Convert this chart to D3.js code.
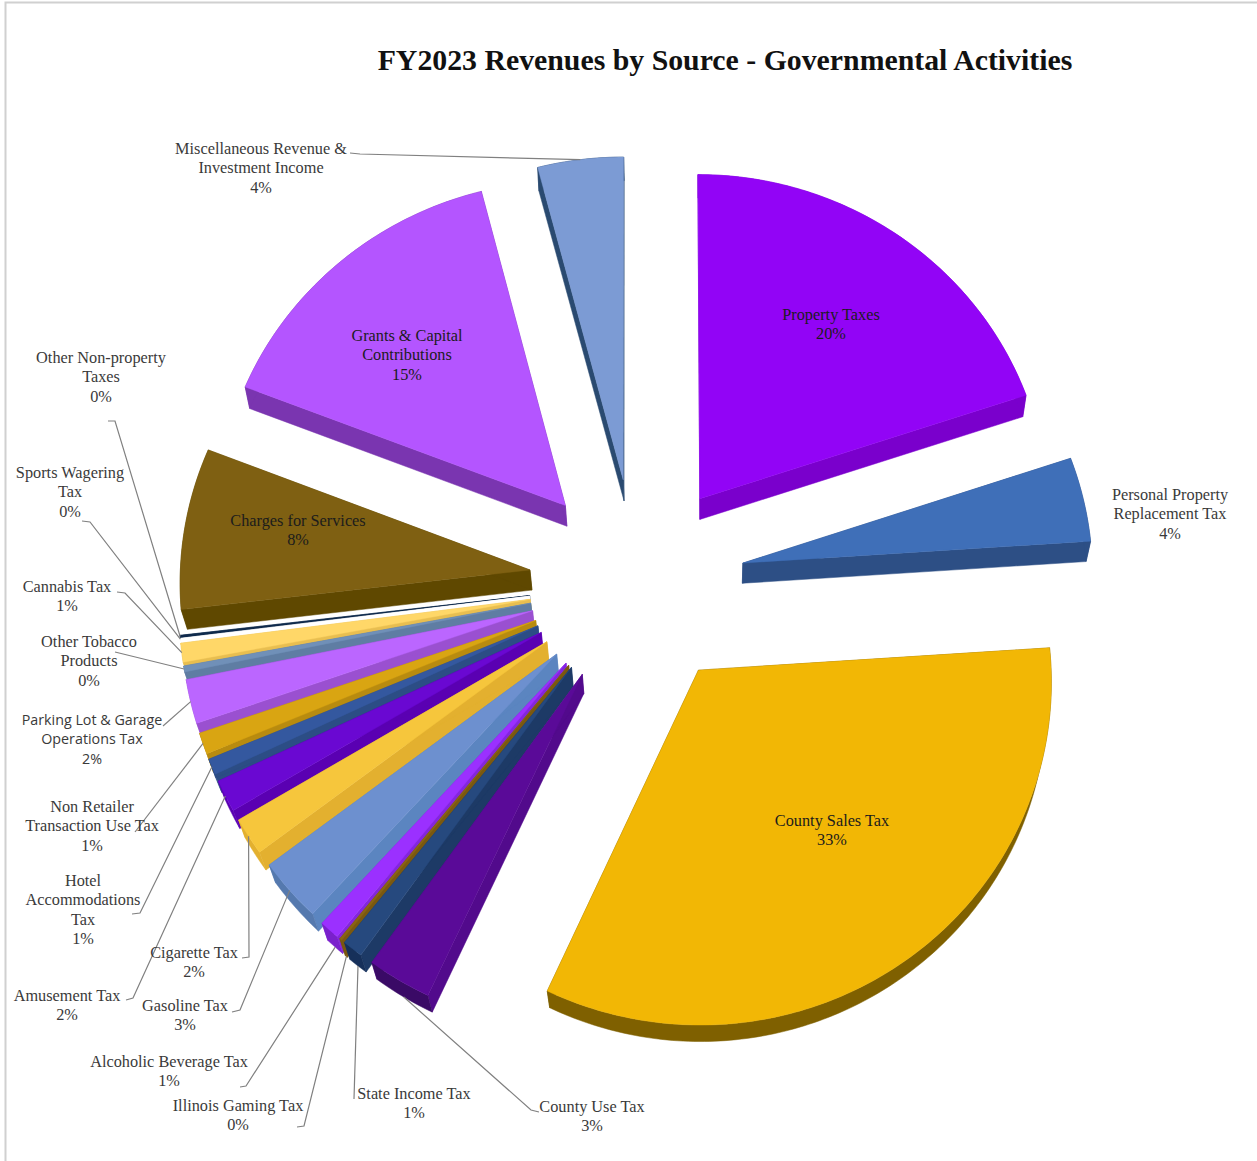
<!DOCTYPE html>
<html>
<head>
<meta charset="utf-8">
<title>FY2023 Revenues by Source - Governmental Activities</title>
<script src="https://cdn.jsdelivr.net/npm/d3@7/dist/d3.min.js"></script>
<style>
html,body{margin:0;padding:0;background:#fff;}
svg{display:block;}
text{font-family:"Liberation Serif",serif;fill:#3a3a3a;font-size:16.3px;text-anchor:middle;}
</style>
</head>
<body>
<svg id="chart" width="1257" height="1161"></svg>
<script>
// Revenue sources in pie order, clockwise from twelve o'clock
const sources = ["Property Taxes","Personal Property Replacement Tax","County Sales Tax","County Use Tax",
  "State Income Tax","Illinois Gaming Tax","Alcoholic Beverage Tax","Gasoline Tax","Cigarette Tax",
  "Amusement Tax","Hotel Accommodations Tax","Non Retailer Transaction Use Tax","Parking Lot & Garage Operations Tax",
  "Other Tobacco Products","Cannabis Tax","Sports Wagering Tax","Other Non-property Taxes",
  "Charges for Services","Grants & Capital Contributions","Miscellaneous Revenue & Investment Income"];
const shares = [19.94,4.03,32.97,2.89,0.92,0.11,0.9,2.95,1.75,1.5,0.75,1.0,2.08,0.28,0.89,0.08,0.11,7.69,15.06,4.11];
const topColors = ["#9204f6","#3f6fb8","#f2b705","#5a0a98","#26497e","#8a6414","#9b30ff","#6d90cf","#f6c63c","#6a08d2",
  "#34589f","#d9a512","#bb66ff","#7090b8","#ffd768","#ffffff","#0f2a4c","#7f6012","#b455ff","#7c9bd4"];
// Cut faces catch the light; rim faces sit in shade
const wallColors = ["#7a00cc","#2d4f85","#7f6000","#520a8c","#1d3a66","#7a5810","#8426dd","#5b85c0","#e3b02f","#5a00b2",
  "#2c4d85","#b88b0f","#9a50d0","#5f7da3","#e8be50","#ffffff","#0f2a4c","#5f4800","#7a35b0","#2a4a70"];
const rimColors = ["#7a00cc","#2d4f85","#7f6000","#3a0a66","#16305a","#7a5810","#7a20cc","#5579ae","#e3b02f","#5a00b2",
  "#2c4d85","#b88b0f","#9a50d0","#5f7da3","#e8be50","#ffffff","#0f2a4c","#5f4800","#7a35b0","#2a4a70"];

// Label text lines, their horizontal centre and first baseline
const labelLines = [
  ["Property Taxes"],["Personal Property","Replacement Tax"],["County Sales Tax"],["County Use Tax"],
  ["State Income Tax"],["Illinois Gaming Tax"],["Alcoholic Beverage Tax"],["Gasoline  Tax"],["Cigarette Tax"],
  ["Amusement  Tax"],["Hotel","Accommodations","Tax"],["Non Retailer","Transaction Use Tax"],["Parking Lot & Garage","Operations Tax"],
  ["Other Tobacco","Products"],["Cannabis  Tax"],["Sports Wagering","Tax"],["Other Non-property","Taxes"],
  ["Charges for Services"],["Grants & Capital","Contributions"],["Miscellaneous Revenue &","Investment Income"]];
const labelX = [831,1170,832,592,414,238,169,185,194,67,83,92,92,89,67,70,101,298,407,261];
const labelY = [320,500,826,1112,1099,1111,1067,1011,958,1001,886,812,725,647,592,478,363,526,341,154];
// Leader elbows; an empty list means the label sits on its slice
const leaderElbows = [
  [],[],[],[[539,1112],[531,1110]],[[354,1099]],[[297,1127],[304,1126]],[[240,1087],[246,1086]],[[232,1012],[240,1010]],
  [[242,958],[249,957]],[[126,1000],[133,998]],[[132,914],[140,913]],[[135,832]],[[163,726]],[[115,652]],
  [[117,592],[125,593]],[[82,521],[90,522]],[[108,421],[115,421]],[],[],[[350,153],[360,154]]];

const centre = {x:637, y:583};
const radius = 350, explode = 108, depth = 20;
const squash = 0.97, recede = 8.6e-5;
const depthVanishX = 700, depthShrink = 0.012, depthShrinkByRow = 1e-5, depthByRow = 0.0004;

// Pie plane to screen, with a mild perspective that shrinks the far side
function project(X, Y, z) {
  const k = 1 + recede * Y;
  const x = centre.x + X * k;
  return [x + (depthVanishX - x) * (depthShrink + depthShrinkByRow * Y) * z,
          centre.y + squash * Y * k + depth * z * (1 - depthByRow * Y)];
}
const pie = d3.pie().sort(null).startAngle(0).endAngle(2 * Math.PI)
  .value((d, i) => shares[i]);
const slices = pie(sources).map((s, i) => {
  const mid = (s.startAngle + s.endAngle) / 2;
  return {i, start: s.startAngle, end: s.endAngle, mid,
    ox: explode * Math.sin(mid), oy: -explode * Math.cos(mid)};
});
function pt(s, r, a, z) {
  return project(s.ox + r * Math.sin(a), s.oy - r * Math.cos(a), z);
}
function arcPts(s, z) {
  const n = Math.max(2, Math.ceil((s.end - s.start) / 0.015));
  return d3.range(n + 1).map(j => pt(s, radius, s.start + (s.end - s.start) * j / n, z));
}
const line = d3.line();
const svg = d3.select("#chart");

// Page frame
svg.append("path").attr("d", "M5.5,1161V2.5H1257").attr("fill", "none").attr("stroke", "#d0d0d0").attr("stroke-width", 2);

svg.append("text").attr("x", 725).attr("y", 69.5)
  .style("font-size", "29.8px").style("font-weight", "bold").style("fill", "#111")
  .text("FY2023 Revenues by Source - Governmental Activities");

// Paint far slices first so nearer ones overlap their walls
const order = slices.slice().sort((a, b) => pt(a, radius * 0.6, a.mid, 0)[1] - pt(b, radius * 0.6, b.mid, 0)[1]);
const gSlices = svg.append("g");
order.forEach(s => {
  const g = gSlices.append("g");
  const wall = wallColors[s.i], rim = rimColors[s.i], top = topColors[s.i];
  const apex0 = pt(s, 0, s.start, 0), apex1 = pt(s, 0, s.start, 1);
  [[apex0, pt(s, radius, s.start, 0), pt(s, radius, s.start, 1), apex1],
   [apex0, pt(s, radius, s.end, 0), pt(s, radius, s.end, 1), apex1]]
    .forEach(w => g.append("path").attr("d", line(w) + "Z").attr("fill", wall).attr("stroke", wall).attr("stroke-width", 0.5));
  g.append("path").attr("d", line(arcPts(s, 0).concat(arcPts(s, 1).reverse())) + "Z")
    .attr("fill", rim).attr("stroke", rim).attr("stroke-width", 0.5);
  g.append("path").attr("d", line([apex0].concat(arcPts(s, 0))) + "Z").attr("fill", top).attr("stroke", top).attr("stroke-width", 0.4);
});

// Leader lines run from the label elbow to the middle of the slice rim;
// near the viewer they meet the bottom of the rim wall
const gLeaders = svg.append("g").attr("fill", "none").attr("stroke", "#808080").attr("stroke-width", 1.2);
slices.forEach(s => {
  const elbows = leaderElbows[s.i];
  if (!elbows.length) return;
  const rimLevel = Math.cos(s.mid) < -0.7 ? 1 : 0;
  gLeaders.append("path").attr("d", line(elbows.concat([pt(s, radius, s.mid, rimLevel)])));
});

// Category name and rounded percentage, stacked
const rowStep = 19.3;
slices.forEach(s => {
  const rows = labelLines[s.i].concat([Math.round(shares[s.i]) + "%"]);
  const inside = !leaderElbows[s.i].length && s.i !== 1;
  const t = svg.append("text").attr("x", labelX[s.i]).attr("y", labelY[s.i]);
  if (inside) t.style("fill", "#1c1c1c");
  if (sources[s.i].startsWith("Parking")) t.style("font-family", "'Open Sans',sans-serif").style("font-size", "14.3px");
  rows.forEach((r, j) => t.append("tspan").attr("x", labelX[s.i]).attr("dy", j ? rowStep : 0).text(r));
});
</script>
</body>
</html>
